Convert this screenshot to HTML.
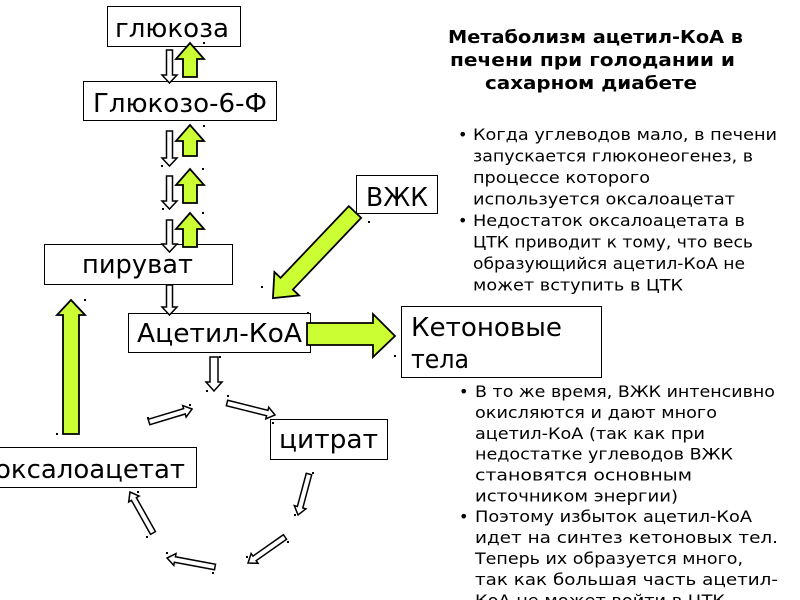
<!DOCTYPE html>
<html>
<head>
<meta charset="utf-8">
<style>
html,body{margin:0;padding:0;background:#fff;overflow:hidden;width:800px;height:600px;}
svg{display:block;}
text{font-family:"DejaVu Sans","Liberation Sans","Noto Sans CJK SC",sans-serif;fill:#000;}
.b{font-size:26px;}
.t{font-size:16px;}
.h{font-size:18px;font-weight:bold;}
</style>
</head>
<body>
<svg width="800" height="600" viewBox="0 0 800 600" xmlns="http://www.w3.org/2000/svg">
<rect x="0" y="0" width="800" height="600" fill="#fff"/>

<!-- boxes -->
<g fill="#fff" stroke="#000" stroke-width="1">
<rect x="107.5" y="6.5" width="133" height="40"/>
<rect x="83.5" y="81.5" width="193" height="39"/>
<rect x="44.5" y="244.5" width="188" height="40"/>
<rect x="128.5" y="313.5" width="182" height="39"/>
<rect x="270.5" y="419.5" width="117" height="40"/>
<rect x="-10.5" y="447.5" width="207" height="40"/>
<rect x="356.5" y="175.5" width="81" height="38"/>
<rect x="401.5" y="306.5" width="200" height="71"/>
</g>

<!-- box labels -->
<text class="b" x="115" y="37" textLength="114" lengthAdjust="spacingAndGlyphs">глюкоза</text>
<text class="b" x="93" y="112" textLength="174" lengthAdjust="spacingAndGlyphs">Глюкозо-6-Ф</text>
<text class="b" x="82" y="273" textLength="111" lengthAdjust="spacingAndGlyphs">пируват</text>
<text class="b" x="137" y="342" textLength="165" lengthAdjust="spacingAndGlyphs">Ацетил-КоА</text>
<text class="b" x="279" y="448" textLength="99" lengthAdjust="spacingAndGlyphs">цитрат</text>
<text class="b" x="-5" y="478" textLength="190" lengthAdjust="spacingAndGlyphs">оксалоацетат</text>
<text class="b" x="366" y="206" textLength="62" lengthAdjust="spacingAndGlyphs">ВЖК</text>
<text class="b" x="411" y="336" textLength="151" lengthAdjust="spacingAndGlyphs">Кетоновые</text>
<text class="b" x="411" y="368" textLength="58" lengthAdjust="spacingAndGlyphs">тела</text>

<!-- white down arrows in the vertical chain -->
<g fill="#fff" stroke="#000" stroke-width="1.5" stroke-linejoin="miter">
<polygon points="166.5,50 172.5,50 172.5,75 177,75 169.5,83 162,75 166.5,75"/>
<polygon points="166.5,131 172.5,131 172.5,158 177,158 169.5,166 162,158 166.5,158"/>
<polygon points="166.5,176 172.5,176 172.5,201 177,201 169.5,209 162,201 166.5,201"/>
<polygon points="166.5,220 172.5,220 172.5,244 177,244 169.5,252 162,244 166.5,244"/>
<polygon points="166.5,285 172.5,285 172.5,307 177,307 169.5,315 162,307 166.5,307"/>
<polygon points="210,357 218,357 218,382 222,382 214,391 206,382 210,382"/>
</g>

<!-- green up arrows -->
<g fill="#ccff33" stroke="#000" stroke-width="1.8" stroke-linejoin="miter">
<polygon points="183,77 183,59 176,59 190,43 204,59 197,59 197,77"/>
<polygon points="183,156 183,141 176,141 190,125 204,141 197,141 197,156"/>
<polygon points="183,203 183,185 176,185 190,169 204,185 197,185 197,203"/>
<polygon points="183,247 183,229 176,229 190,213 204,229 197,229 197,247"/>
<!-- big up arrow -->
<polygon points="63,434 63,315 57,315 71,300 85,315 79,315 79,434"/>
<!-- big right arrow -->
<polygon points="307,323 373,323 373,314 395,336 373,357 373,345 307,345"/>
<!-- ВЖК diagonal arrow -->
<g transform="translate(355,212) rotate(133.6)">
<polygon points="0,-8.5 99,-8.5 99,-17 119,0 99,17 99,8.5 0,8.5"/>
</g>
</g>

<!-- cycle arrows -->
<g fill="#fff" stroke="#000" stroke-width="1.5" stroke-linejoin="miter">
<g transform="translate(149,422) rotate(-16.8)"><polygon points="0,-2.8 37,-2.8 37,-6 45,0 37,6 37,2.8 0,2.8"/></g>
<g transform="translate(227,403) rotate(14)"><polygon points="0,-2.8 41.5,-2.8 41.5,-6 49.5,0 41.5,6 41.5,2.8 0,2.8"/></g>
<g transform="translate(309,474) rotate(105)"><polygon points="0,-2.8 34.4,-2.8 34.4,-6 42.4,0 34.4,6 34.4,2.8 0,2.8"/></g>
<g transform="translate(285,537) rotate(144.9)"><polygon points="0,-2.8 37.2,-2.8 37.2,-6 45.2,0 37.2,6 37.2,2.8 0,2.8"/></g>
<g transform="translate(215,567) rotate(-169.4)"><polygon points="0,-2.8 40.8,-2.8 40.8,-6 48.8,0 40.8,6 40.8,2.8 0,2.8"/></g>
<g transform="translate(153,533) rotate(-119.3)"><polygon points="0,-2.8 39,-2.8 39,-6 47,0 39,6 39,2.8 0,2.8"/></g>
</g>

<!-- stray selection dots -->
<g fill="#000">
<rect x="203" y="42" width="2" height="2"/>
<rect x="203" y="125" width="2" height="2"/>
<rect x="202" y="168" width="2" height="2"/>
<rect x="202" y="212" width="2" height="2"/>
<rect x="161" y="165" width="2" height="2"/>
<rect x="162" y="208" width="2" height="2"/>
<rect x="261" y="286" width="2" height="2"/>
<rect x="84" y="299" width="2" height="2"/>
<rect x="56" y="433" width="2" height="2"/>
<rect x="307" y="312" width="2" height="2"/>
<rect x="394" y="355" width="2" height="2"/>
<rect x="206" y="390" width="2" height="2"/>
<rect x="219" y="356" width="2" height="2"/>
<rect x="227" y="395" width="2" height="2"/>
<rect x="272" y="422" width="2" height="2"/>
<rect x="312" y="472" width="2" height="2"/>
<rect x="294" y="514" width="2" height="2"/>
<rect x="287" y="541" width="2" height="2"/>
<rect x="246" y="556" width="2" height="2"/>
<rect x="212" y="572" width="2" height="2"/>
<rect x="166" y="552" width="2" height="2"/>
<rect x="146" y="536" width="2" height="2"/>
<rect x="137" y="491" width="2" height="2"/>
<rect x="147" y="417" width="2" height="2"/>
<rect x="189" y="404" width="2" height="2"/>
<rect x="368" y="221" width="2" height="2"/>
<rect x="261" y="286" width="2" height="2"/>
</g>

<!-- title -->
<text class="h" x="448" y="43" textLength="295" lengthAdjust="spacingAndGlyphs">Метаболизм ацетил-КоА в</text>
<text class="h" x="450" y="66" textLength="285" lengthAdjust="spacingAndGlyphs">печени при голодании и</text>
<text class="h" x="485" y="89" textLength="212" lengthAdjust="spacingAndGlyphs">сахарном диабете</text>

<!-- top bullets -->
<text class="t" x="458" y="140">•</text>
<text class="t" x="473" y="140" textLength="304" lengthAdjust="spacingAndGlyphs">Когда углеводов мало, в печени</text>
<text class="t" x="473" y="161.5" textLength="280" lengthAdjust="spacingAndGlyphs">запускается глюконеогенез, в</text>
<text class="t" x="473" y="183" textLength="177" lengthAdjust="spacingAndGlyphs">процессе которого</text>
<text class="t" x="473" y="204.5" textLength="262" lengthAdjust="spacingAndGlyphs">используется оксалоацетат</text>
<text class="t" x="458" y="226">•</text>
<text class="t" x="473" y="226" textLength="272" lengthAdjust="spacingAndGlyphs">Недостаток оксалоацетата в</text>
<text class="t" x="473" y="247.5" textLength="280" lengthAdjust="spacingAndGlyphs">ЦТК приводит к тому, что весь</text>
<text class="t" x="473" y="269" textLength="272" lengthAdjust="spacingAndGlyphs">образующийся ацетил-КоА не</text>
<text class="t" x="473" y="290.5" textLength="210" lengthAdjust="spacingAndGlyphs">может вступить в ЦТК</text>

<!-- lower bullets -->
<text class="t" x="459" y="397">•</text>
<text class="t" x="475" y="397" textLength="300" lengthAdjust="spacingAndGlyphs">В то же время, ВЖК интенсивно</text>
<text class="t" x="475" y="418" textLength="242" lengthAdjust="spacingAndGlyphs">окисляются и дают много</text>
<text class="t" x="475" y="439" textLength="230" lengthAdjust="spacingAndGlyphs">ацетил-КоА (так как при</text>
<text class="t" x="475" y="459.5" textLength="258" lengthAdjust="spacingAndGlyphs">недостатке углеводов ВЖК</text>
<text class="t" x="475" y="480.5" textLength="217" lengthAdjust="spacingAndGlyphs">становятся основным</text>
<text class="t" x="475" y="501.5" textLength="203" lengthAdjust="spacingAndGlyphs">источником энергии)</text>
<text class="t" x="459" y="522">•</text>
<text class="t" x="475" y="522" textLength="277" lengthAdjust="spacingAndGlyphs">Поэтому избыток ацетил-КоА</text>
<text class="t" x="475" y="543" textLength="303" lengthAdjust="spacingAndGlyphs">идет на синтез кетоновых тел.</text>
<text class="t" x="475" y="564" textLength="268" lengthAdjust="spacingAndGlyphs">Теперь их образуется много,</text>
<text class="t" x="475" y="585" textLength="303" lengthAdjust="spacingAndGlyphs">так как большая часть ацетил-</text>
<text class="t" x="475" y="606" textLength="250" lengthAdjust="spacingAndGlyphs">КоА не может войти в ЦТК</text>
</svg>
</body>
</html>
